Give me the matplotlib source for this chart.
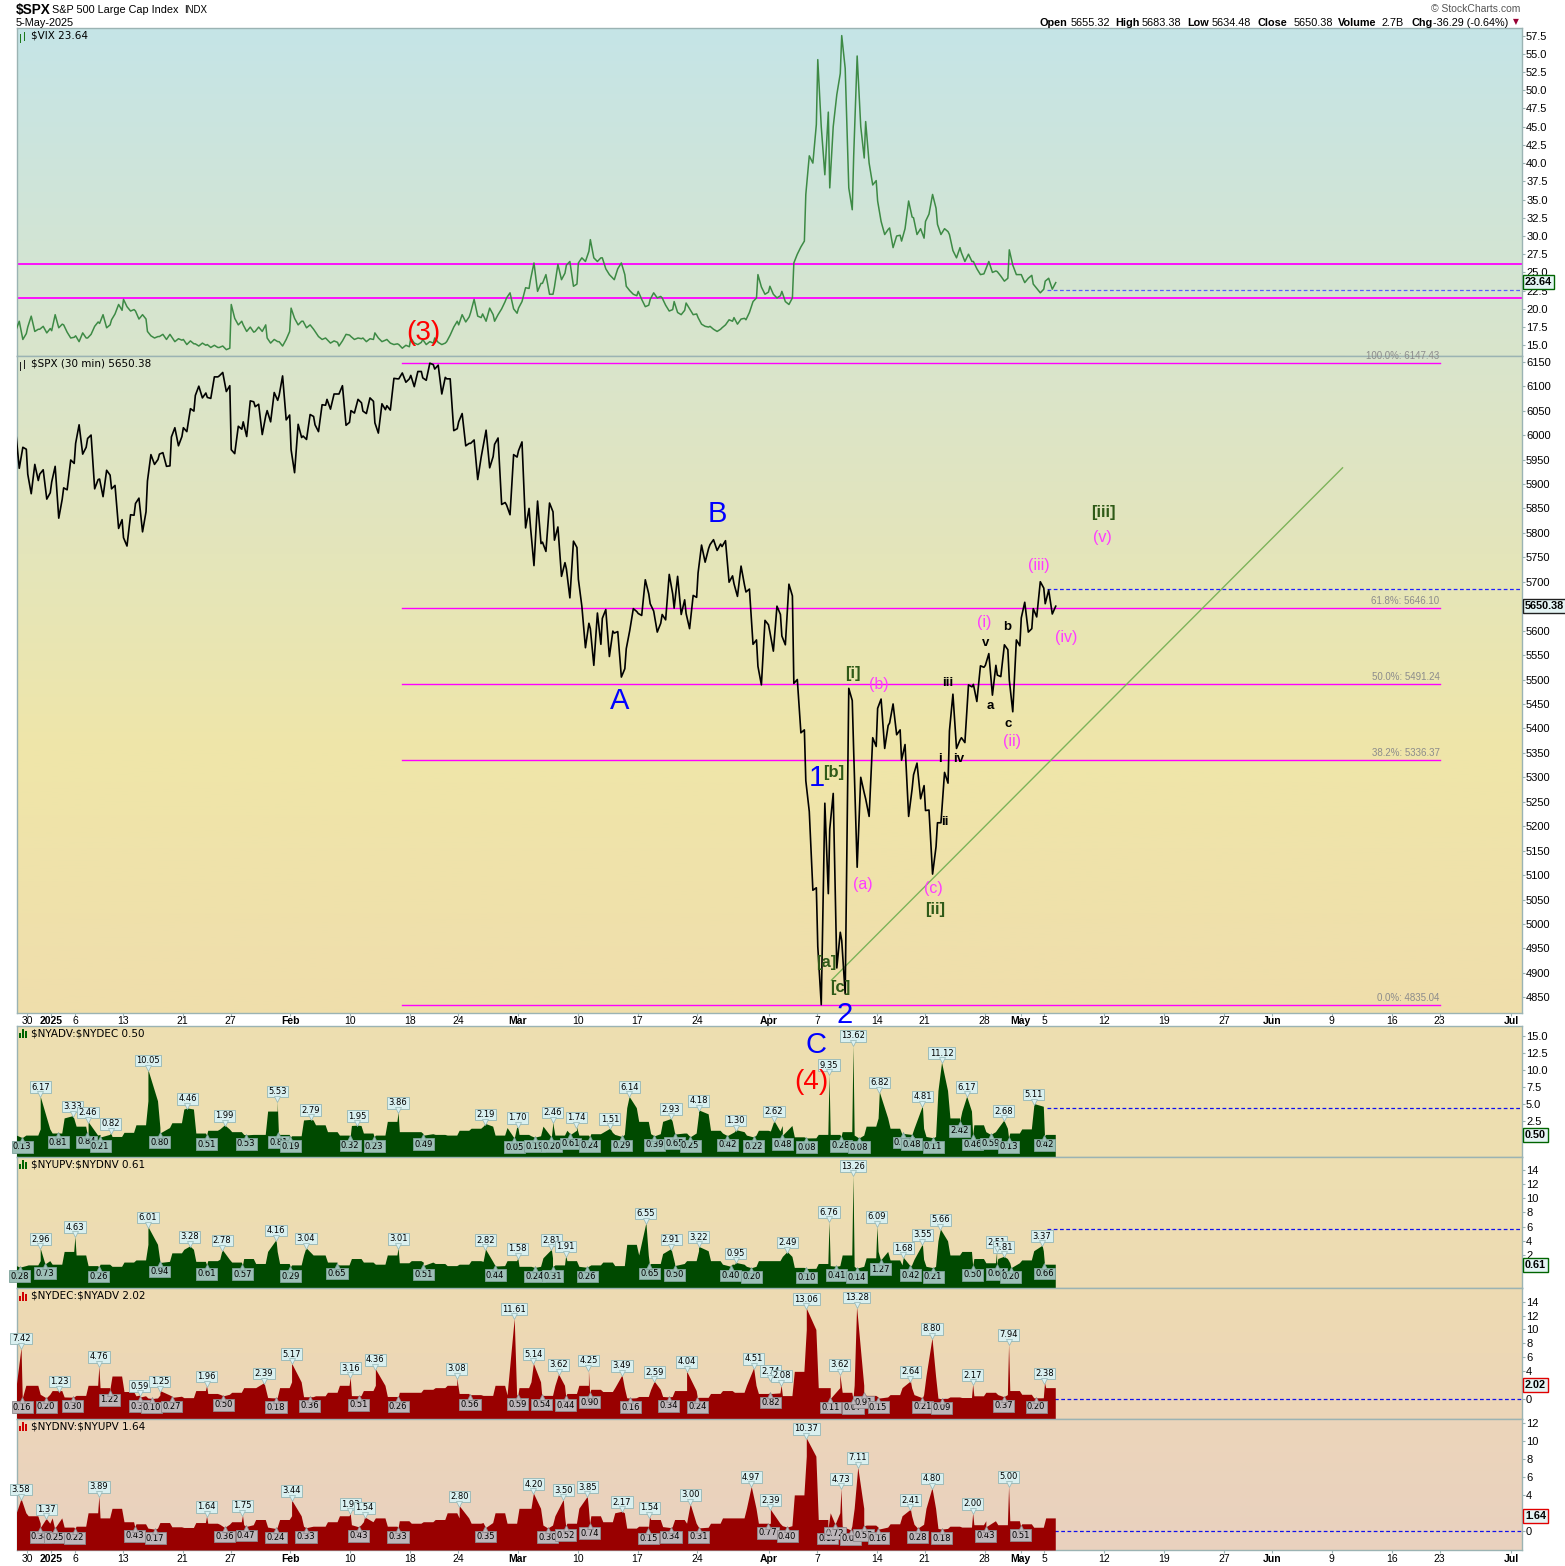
import numpy as np
import pandas as pd
import matplotlib
matplotlib.use("Agg")
import matplotlib.pyplot as plt
from matplotlib.transforms import offset_copy
from matplotlib.colors import LinearSegmentedColormap
from matplotlib.patches import Rectangle

plt.rcParams["font.family"] = ["Liberation Sans", "DejaVu Sans"]

# ---------------------------------------------------------------
# trading calendar: x axis counts sessions, Dec 30 2024 = 0
# ---------------------------------------------------------------
closed = ["2025-01-01", "2025-01-09", "2025-01-20", "2025-02-17",
          "2025-04-18", "2025-05-26", "2025-06-19"]
sessions = pd.bdate_range("2024-12-27", "2025-07-01", freq="C", holidays=closed)
session_ix = {d.strftime("%Y-%m-%d"): i - 1 for i, d in enumerate(sessions)}

tick_dates = ["2024-12-30", "2025-01-02", "2025-01-06", "2025-01-13", "2025-01-21",
              "2025-01-27", "2025-02-03", "2025-02-10", "2025-02-18", "2025-02-24",
              "2025-03-03", "2025-03-10", "2025-03-17", "2025-03-24", "2025-04-01",
              "2025-04-07", "2025-04-14", "2025-04-21", "2025-04-28", "2025-05-01",
              "2025-05-05", "2025-05-12", "2025-05-19", "2025-05-27", "2025-06-02",
              "2025-06-09", "2025-06-16", "2025-06-23", "2025-07-01"]
tick_text = ["30", "2025", "6", "13", "21", "27", "Feb", "10", "18", "24", "Mar", "10",
             "17", "24", "Apr", "7", "14", "21", "28", "May", "5", "12", "19", "27",
             "Jun", "9", "16", "23", "Jul"]
bold_ticks = {"2025", "Feb", "Mar", "Apr", "May", "Jun", "Jul"}

# ---------------------------------------------------------------
# $SPX 30-min path, four points per session (open, swing, swing, close)
# ---------------------------------------------------------------
spx_dec = [[6006, 5932, 5975, 5971], [5920, 5880, 5940, 5907], [5920, 5929, 5869, 5882]]
spx_jan = [
    [5904, 5936, 5830, 5869], [5892, 5888, 5949, 5942], [5983, 6021, 5961, 5975],
    [5993, 6000, 5890, 5909], [5910, 5874, 5928, 5918], [5890, 5897, 5809, 5827],
    [5790, 5773, 5837, 5836], [5860, 5871, 5802, 5843], [5906, 5960, 5940, 5950],
    [5961, 5964, 5936, 5937], [5996, 6015, 5978, 5997], [6015, 6007, 6054, 6049],
    [6081, 6100, 6076, 6086], [6077, 6075, 6119, 6119], [6121, 6128, 6089, 6101],
    [5970, 5962, 6018, 6012], [6027, 5997, 6070, 6068], [6058, 6063, 6001, 6039],
    [6050, 6027, 6087, 6071], [6081, 6121, 6031, 6041]]
spx_feb = [
    [5970, 5923, 6022, 5995], [5998, 5991, 6042, 6038], [6021, 6007, 6062, 6061],
    [6073, 6053, 6084, 6084], [6084, 6101, 6020, 6026], [6050, 6045, 6073, 6066],
    [6049, 6044, 6076, 6069], [6025, 6004, 6064, 6052], [6060, 6051, 6116, 6115],
    [6115, 6127, 6108, 6115], [6122, 6099, 6130, 6130], [6117, 6112, 6147, 6144],
    [6135, 6143, 6084, 6118], [6115, 6115, 6009, 6013], [6027, 6044, 5978, 5983],
    [5983, 5990, 5909, 5955], [5971, 6010, 5933, 5956], [5981, 5994, 5858, 5862],
    [5857, 5837, 5960, 5955]]
spx_mar = [
    [5968, 5986, 5810, 5850], [5812, 5733, 5865, 5778], [5781, 5762, 5861, 5843],
    [5785, 5812, 5711, 5739], [5726, 5667, 5783, 5770], [5705, 5650, 5565, 5615],
    [5604, 5529, 5636, 5572], [5625, 5643, 5547, 5599], [5595, 5598, 5505, 5522],
    [5563, 5600, 5645, 5639], [5635, 5631, 5704, 5675], [5655, 5640, 5597, 5615],
    [5633, 5622, 5715, 5675], [5646, 5711, 5633, 5663], [5635, 5604, 5672, 5668],
    [5718, 5775, 5740, 5768], [5776, 5786, 5764, 5777], [5772, 5784, 5699, 5712],
    [5696, 5670, 5732, 5693], [5679, 5685, 5572, 5581], [5527, 5489, 5621, 5612]]
spx_apr = [
    [5597, 5558, 5650, 5633], [5589, 5571, 5695, 5671], [5492, 5500, 5391, 5397],
    [5293, 5230, 5069, 5074], [4954, 4835, 5247, 5062], [5194, 5267, 4910, 4983],
    [4966, 4857, 5482, 5457], [5353, 5116, 5300, 5268], [5256, 5220, 5381, 5363],
    [5441, 5460, 5359, 5406], [5411, 5450, 5387, 5397], [5335, 5367, 5220, 5276],
    [5305, 5329, 5256, 5283], [5232, 5233, 5102, 5158], [5207, 5207, 5310, 5288],
    [5395, 5470, 5359, 5376], [5381, 5371, 5489, 5485], [5490, 5455, 5528, 5525],
    [5529, 5553, 5468, 5529], [5509, 5506, 5571, 5561], [5499, 5434, 5581, 5569]]
spx_may = [[5626, 5658, 5597, 5604], [5645, 5628, 5700, 5687], [5655, 5683, 5634, 5650]]

# $VIX, same layout
vix_dec = [[17.0, 18.3, 15.8, 16.6], [17.5, 19.0, 16.9, 17.2], [17.2, 17.6, 16.7, 17.3]]
vix_jan = [
    [17.0, 19.2, 17.4, 17.9], [17.8, 16.8, 16.0, 16.1], [16.3, 15.5, 16.7, 16.0],
    [16.0, 16.5, 17.6, 18.2], [18.0, 19.2, 17.4, 17.8], [18.5, 19.3, 20.6, 19.8],
    [21.3, 20.3, 19.7, 19.9], [19.7, 18.6, 19.2, 18.6], [16.9, 16.3, 16.0, 16.2],
    [16.2, 16.5, 15.8, 16.5], [16.2, 15.5, 15.9, 15.7], [15.8, 15.1, 15.6, 15.2],
    [15.2, 14.9, 15.3, 15.0], [15.1, 14.7, 15.0, 14.7], [14.7, 14.9, 14.4, 14.6],
    [20.6, 18.7, 17.8, 18.3], [17.8, 16.9, 17.5, 16.8], [16.9, 17.5, 16.9, 17.8],
    [16.0, 15.3, 15.8, 15.5], [15.5, 14.9, 15.8, 16.9]]
vix_feb = [
    [20.1, 18.7, 17.8, 18.3], [18.3, 17.4, 17.8, 17.2], [16.9, 16.2, 15.8, 16.0],
    [15.8, 15.3, 15.6, 15.4], [14.9, 15.6, 16.5, 16.4], [16.2, 15.8, 16.0, 15.9],
    [16.0, 15.5, 15.9, 15.8], [16.7, 16.0, 15.5, 15.7], [15.8, 15.3, 15.1, 15.2],
    [15.1, 14.6, 15.0, 14.8], [16.0, 15.3, 15.1, 15.4], [15.8, 15.1, 15.5, 15.3],
    [16.0, 15.4, 15.1, 15.3], [15.5, 16.4, 17.5, 18.3], [17.8, 19.2, 18.2, 18.9],
    [19.5, 21.3, 19.0, 18.8], [19.3, 18.3, 20.1, 19.2], [18.3, 19.2, 20.0, 21.0],
    [21.5, 22.2, 20.0, 19.4]]
vix_mar = [
    [20.1, 21.0, 22.9, 22.8], [24.0, 26.3, 22.4, 23.5], [23.5, 24.7, 22.0, 22.0],
    [23.0, 26.1, 24.0, 24.9], [26.0, 26.5, 23.1, 23.4], [26.3, 27.0, 26.5, 27.9],
    [29.5, 27.0, 26.5, 27.0], [27.0, 25.5, 24.7, 24.2], [24.0, 25.5, 26.3, 24.7],
    [23.1, 22.5, 22.0, 21.8], [22.4, 21.3, 20.3, 20.5], [21.3, 22.2, 21.5, 21.7],
    [21.5, 20.5, 19.7, 19.9], [21.0, 19.5, 19.2, 19.8], [20.8, 20.0, 19.2, 19.3],
    [18.8, 17.9, 17.6, 17.5], [17.6, 17.2, 16.9, 17.2], [17.4, 17.8, 18.5, 18.3],
    [18.8, 17.9, 18.6, 18.7], [18.5, 19.5, 21.0, 21.5], [24.7, 23.0, 22.0, 22.3]]
vix_apr = [
    [23.1, 22.0, 21.5, 21.8], [22.4, 21.0, 20.6, 21.5], [26.3, 27.5, 28.5, 29.3],
    [35.7, 41.0, 40.0, 45.3], [54.2, 45.0, 38.4, 47.0], [36.6, 45.0, 49.4, 52.3],
    [57.5, 53.0, 36.6, 33.6], [41.0, 54.7, 45.0, 40.7], [45.7, 40.0, 37.0, 37.6],
    [34.8, 32.0, 30.2, 30.9], [31.1, 28.4, 30.0, 30.1], [29.3, 31.0, 34.8, 32.6],
    [32.5, 30.2, 31.0, 29.7], [32.0, 33.0, 35.7, 33.8], [31.6, 30.2, 31.0, 30.6],
    [30.2, 28.0, 27.0, 28.4], [27.7, 26.5, 27.5, 26.5], [26.5, 25.5, 24.7, 24.8],
    [25.3, 26.5, 25.0, 25.2], [25.1, 24.5, 23.8, 24.2], [28.1, 26.0, 24.7, 24.7]]
vix_may = [[24.7, 23.6, 24.2, 24.6], [23.4, 22.8, 22.2, 22.7], [23.8, 24.2, 22.7, 23.6]]

# ---------------------------------------------------------------
# breadth ratios: settled level per session + labelled extremes
# ---------------------------------------------------------------
adv_level = [0.5, 0.5, 1.4,
             0.8, 3.0, 1.8, 0.5, 0.6, 0.3, 0.9, 2.0, 5.5, 1.6, 2.3, 4.3, 0.8, 1.2, 1.4, 1.0, 0.6, 0.6, 4.0, 0.6,
             0.4, 2.7, 2.0, 1.0, 0.5, 1.9, 0.8, 0.5, 2.5, 1.0, 1.0, 0.7, 0.6, 0.5, 1.2, 1.5, 1.8, 0.5, 1.6,
             0.6, 0.4, 1.8, 0.5, 1.2, 0.5, 0.7, 0.9, 0.6, 4.5, 2.5, 0.7, 2.5, 0.8, 0.8, 3.6, 1.2, 0.8, 1.0, 0.5, 1.2,
             1.1, 1.9, 0.25, 0.1, 0.6, 0.6, 1.0, 0.5, 1.8, 3.0, 1.5, 0.6, 1.5, 0.3, 7.0, 3.0, 4.0, 2.0, 1.0, 1.5, 0.8,
             1.4, 4.7, 0.6]
upv_level = [0.5, 0.6, 1.2,
             0.7, 2.5, 2.0, 0.5, 0.7, 0.4, 1.0, 1.3, 3.5, 1.1, 2.3, 2.8, 1.1, 1.2, 1.4, 1.0, 1.5, 0.8, 2.5, 0.8,
             0.6, 2.0, 2.0, 1.0, 0.6, 1.5, 1.0, 0.7, 2.0, 0.9, 1.2, 1.0, 0.8, 0.5, 0.7, 1.2, 1.1, 0.5, 1.2,
             0.4, 0.4, 1.6, 0.6, 1.2, 0.4, 0.6, 1.0, 0.5, 3.5, 2.0, 0.8, 2.2, 0.8, 1.2, 2.6, 1.2, 0.7, 0.7, 0.4, 1.2,
             1.2, 1.8, 0.25, 0.12, 0.8, 0.5, 2.0, 0.4, 1.6, 2.5, 1.3, 0.6, 1.4, 0.4, 4.0, 2.0, 2.5, 1.5, 0.9, 1.5, 0.9,
             1.3, 2.6, 0.7]

adv_hi_pos = [1.1, 3.8, 5.1, 7.0, 10.1, 13.4, 16.5, 20.9, 23.7, 27.6, 31.0, 38.3, 41.0, 43.9, 45.9,
              48.7, 50.3, 53.8, 56.1, 59.2, 62.4, 67.0, 69.0, 71.2, 74.8, 76.4, 78.5, 81.6, 84.1]
adv_hi_val = [6.17, 3.33, 2.46, 0.82, 10.05, 4.46, 1.99, 5.53, 2.79, 1.95, 3.86, 2.19, 1.70, 2.46, 1.74,
              1.51, 6.14, 2.93, 4.18, 1.30, 2.62, 9.35, 13.62, 6.82, 4.81, 11.12, 6.17, 2.68, 5.11]
adv_lo_pos = [-0.4, 2.6, 5.0, 6.1, 11.1, 15.0, 18.3, 21.0, 22.0, 27.0, 29.0, 33.1, 40.7, 42.4, 43.8, 45.4,
              47.0, 49.7, 52.4, 54.1, 55.4, 58.5, 60.7, 63.1, 65.1, 68.0, 69.5, 73.2, 73.9, 75.7, 77.9,
              79.0, 80.5, 82.0, 85.0]
adv_lo_val = [0.13, 0.81, 0.84, 0.21, 0.80, 0.51, 0.53, 0.81, 0.19, 0.32, 0.23, 0.49, 0.05, 0.19, 0.20, 0.61,
              0.24, 0.29, 0.39, 0.65, 0.25, 0.42, 0.22, 0.48, 0.08, 0.28, 0.08, 0.74, 0.48, 0.11, 2.42,
              0.46, 0.59, 0.13, 0.42]

upv_hi_pos = [1.1, 4.0, 10.1, 13.6, 16.3, 20.8, 23.3, 31.0, 38.3, 41.0, 43.8, 45.0, 51.7, 53.8, 56.1,
              59.2, 63.5, 67.0, 69.0, 71.0, 73.2, 74.8, 76.3, 81.0, 81.6, 84.8]
upv_hi_val = [2.96, 4.63, 6.01, 3.28, 2.78, 4.16, 3.04, 3.01, 2.82, 1.58, 2.81, 1.91, 6.55, 2.91, 3.22,
              0.95, 2.49, 6.76, 13.26, 6.09, 1.68, 3.55, 5.66, 2.51, 1.81, 3.37]
upv_lo_pos = [-0.6, 1.5, 6.0, 11.1, 15.0, 18.0, 22.0, 25.9, 33.1, 39.1, 42.4, 43.9, 46.8, 52.0, 54.1,
              58.8, 60.5, 65.1, 67.6, 69.3, 71.3, 73.8, 75.7, 79.0, 81.0, 82.2, 85.0]
upv_lo_val = [0.28, 0.73, 0.26, 0.94, 0.61, 0.57, 0.29, 0.65, 0.51, 0.44, 0.24, 0.31, 0.26, 0.65, 0.50,
              0.40, 0.20, 0.10, 0.41, 0.14, 1.27, 0.42, 0.21, 0.50, 0.64, 0.20, 0.66]

dec_hi_pos = [-0.5, 2.7, 6.0, 9.4, 11.1, 15.0, 19.8, 22.1, 27.0, 29.1, 35.9, 40.7, 42.3, 44.4, 46.9,
              49.7, 52.4, 55.1, 60.7, 62.1, 63.0, 65.1, 67.9, 69.3, 73.8, 75.6, 79.0, 82.0, 85.0]
dec_hi_val = [7.42, 1.23, 4.76, 0.59, 1.25, 1.96, 2.39, 5.17, 3.16, 4.36, 3.08, 11.61, 5.14, 3.62, 4.25,
              3.49, 2.59, 4.04, 4.51, 2.74, 2.08, 13.06, 3.62, 13.28, 2.64, 8.80, 2.17, 7.94, 2.38]
dec_lo_pos = [-0.4, 1.6, 3.8, 6.9, 9.4, 10.4, 12.1, 16.4, 20.8, 23.6, 27.7, 31.0, 37.0, 41.0, 43.0, 45.0,
              47.0, 50.4, 53.6, 56.0, 62.1, 67.1, 69.0, 69.9, 71.1, 74.8, 76.4, 81.6, 84.3]
dec_lo_val = [0.16, 0.20, 0.30, 1.22, 0.31, 0.10, 0.27, 0.50, 0.18, 0.36, 0.51, 0.26, 0.56, 0.59, 0.54, 0.44,
              0.90, 0.16, 0.34, 0.24, 0.82, 0.11, 0.07, 0.91, 0.15, 0.21, 0.09, 0.37, 0.20]

dnv_hi_pos = [-0.5, 1.6, 6.0, 15.0, 18.0, 22.1, 27.0, 28.2, 36.1, 42.3, 44.8, 46.8, 49.7, 52.0, 55.4,
              60.5, 62.1, 65.1, 68.0, 69.4, 73.8, 75.6, 79.0, 82.0]
dnv_hi_val = [3.58, 1.37, 3.89, 1.64, 1.75, 3.44, 1.93, 1.54, 2.80, 4.20, 3.50, 3.85, 2.17, 1.54, 3.00,
              4.97, 2.39, 10.37, 4.73, 7.11, 2.41, 4.80, 2.00, 5.00]
dnv_lo_pos = [1.1, 2.3, 4.0, 9.0, 10.7, 16.5, 18.3, 20.8, 23.3, 27.7, 31.0, 38.3, 43.5, 45.0, 47.0, 51.9,
              53.8, 56.1, 61.9, 63.5, 66.9, 67.5, 68.8, 69.9, 71.1, 74.4, 76.4, 80.1, 83.0]
dnv_lo_val = [0.34, 0.25, 0.22, 0.43, 0.17, 0.36, 0.47, 0.24, 0.33, 0.43, 0.33, 0.35, 0.30, 0.52, 0.74, 0.15,
              0.34, 0.31, 0.77, 0.40, 0.15, 0.72, 0.09, 0.53, 0.16, 0.28, 0.18, 0.43, 0.51]

# overlays
vix_lines = [26.1, 21.5]
vix_dash = 22.55
spx_dash = 5686
adv_dash = 4.4
upv_dash = 5.7
fib_pct = ["100.0%", "61.8%", "50.0%", "38.2%", "0.0%"]
fib_val = [6147.43, 5646.10, 5491.24, 5336.37, 4835.04]
fib_span = (31.3, 118.0)
trend_idx = [67.2, 109.9]
trend_val = [4885, 5933]

wave_labels = [
    ("A", 49.5, 5456, "blue"), ("B", 57.7, 5838, "blue"), ("1", 66.0, 5298, "blue"),
    ("2", 68.3, 4814, "blue"), ("C", 65.9, 4753, "blue"), ("(4)", 65.5, 4677, "red"),
    ("[i]", 69.0, 5513, "green"), ("[b]", 67.4, 5309, "green"), ("[a]", 66.8, 4922, "green"),
    ("[c]", 67.9, 4871, "green"), ("[ii]", 75.9, 5029, "green"), ("[iii]", 89.9, 5842, "green"),
    ("(a)", 69.8, 5080, "pink"), ("(b)", 71.2, 5489, "pink"), ("(c)", 75.7, 5072, "pink"),
    ("(i)", 80.0, 5616, "pink"), ("(ii)", 82.3, 5374, "pink"), ("(iii)", 84.5, 5734, "pink"),
    ("(iv)", 86.8, 5585, "pink"), ("(v)", 89.8, 5791, "pink"),
    ("i", 76.3, 5337, "black"), ("ii", 76.7, 5208, "black"), ("iii", 76.9, 5493, "black"),
    ("iv", 77.8, 5337, "black"), ("v", 80.1, 5575, "black"), ("a", 80.5, 5446, "black"),
    ("b", 81.9, 5608, "black"), ("c", 82.0, 5409, "black")]
vix_wave = ("(3)", 33.1, 16.7, "red")

WAVE_STYLE = {
    "blue": dict(color="#0000ff", fontsize=21),
    "red": dict(color="#ff0000", fontsize=20),
    "green": dict(color="#2f5a18", fontsize=12, fontweight="bold"),
    "pink": dict(color="#ff3cff", fontsize=11.5),
    "black": dict(color="black", fontsize=9.5, fontweight="bold"),
}

# ---------------------------------------------------------------
# layout (pixel based, 1565 x 1566)
# ---------------------------------------------------------------
W, H = 1565, 1566
L, R = 16.5, 1521.5
X0, X1 = -0.88, 124.85
EDGE = "#9bb3b3"
GREEN_AREA, RED_AREA = "#004a00", "#990000"
HI_FC, HI_EC = "#d9f0f0", "#94b6b6"

fig = plt.figure(figsize=(W / 100, H / 100), dpi=100)
fig.patch.set_facecolor("white")


def panel(top, bottom, colors, z=1):
    ax = fig.add_axes([L / W, 1 - bottom / H, (R - L) / W, (bottom - top) / H], zorder=z)
    ax.patch.set_visible(False)
    cmap = LinearSegmentedColormap.from_list("bg", colors)
    ax.imshow(np.linspace(0, 1, 256)[:, None], cmap=cmap, extent=(0, 1, 0, 1),
              transform=ax.transAxes, aspect="auto", origin="upper", zorder=0)
    for s in ax.spines.values():
        s.set_color(EDGE)
        s.set_linewidth(1.0)
    ax.yaxis.tick_right()
    ax.tick_params(axis="y", which="both", direction="out", length=2.5, width=0.8,
                   colors=EDGE, labelcolor="black", labelsize=8, pad=0.8)
    ax.tick_params(axis="x", length=0, labelbottom=False)
    return ax


def date_axis(ax):
    ax.set_xticks([session_ix[d] for d in tick_dates])
    ax.set_xticklabels(tick_text)
    ax.tick_params(axis="x", direction="out", length=2, width=0.8, colors=EDGE,
                   labelcolor="black", labelsize=7.5, pad=0.6, labelbottom=True)
    for lab in ax.get_xticklabels():
        if lab.get_text() in bold_ticks:
            lab.set_fontweight("bold")


def legend(ax, text, y_px, color, bars=True):
    fig.text(31.5 / W, 1 - y_px / H, text.replace("$", r"\$"), fontsize=7.5,
             family="DejaVu Sans", va="center", ha="left", zorder=20)
    if bars:
        for dx, h in [(0, 5), (3, 9), (6, 7)]:
            fig.add_artist(Rectangle(((19 + dx) / W, 1 - (y_px + 4.5) / H), 2 / W, h / H,
                                     transform=fig.transFigure, color=color, lw=0, zorder=20))
    else:
        for dx, y0, h in [(0, -4, 9), (4, -2, 9)]:
            fig.add_artist(Rectangle(((20 + dx) / W, 1 - (y_px - y0 + 4) / H), 1.2 / W, h / H,
                                     transform=fig.transFigure, color=color, lw=0, zorder=20))


def value_tag(ax, value, text, ec):
    ax.text(1.0 + 3.5 / (R - L), value, text, transform=ax.get_yaxis_transform(),
            ha="left", va="center", fontsize=7.8, fontweight="bold", color="black",
            bbox=dict(boxstyle="square,pad=0.18", fc="#e4f4f4", ec=ec, lw=1.0),
            clip_on=False, zorder=30)


def price_tags(ax, pos, val, hi, fc, ec):
    dy = 3.3 if hi else -3.3
    mark = offset_copy(ax.transData, fig=fig, x=0, y=dy * 0.42, units="points")
    for p, v in zip(pos, val):
        ax.annotate(f"{v:.2f}", (p, v), xytext=(0, dy), textcoords="offset points",
                    ha="center", va="bottom" if hi else "top", fontsize=6.0,
                    family="DejaVu Sans", color="black",
                    bbox=dict(boxstyle="square,pad=0.16", fc=fc, ec=ec, lw=0.6),
                    annotation_clip=False, zorder=7)
        ax.plot([p], [v], marker="v" if hi else "^", ms=4.6, color=fc, mec=ec, mew=0.5,
                transform=mark, zorder=8, clip_on=False)


def breadth_series(level, hi_pos, hi_val, lo_pos, lo_val):
    d = np.arange(-1, len(level) - 1)
    xs = np.concatenate([d + 0.1, d + 0.9, hi_pos, lo_pos])
    ys = np.concatenate([level, level, hi_val, lo_val])
    o = np.argsort(xs, kind="stable")
    return xs[o], ys[o]


in_day = np.array([0.06, 0.35, 0.65, 0.94])


def session_path(rows):
    rows = np.asarray(rows, dtype=float)
    d = np.arange(-1, len(rows) - 1)
    return (d[:, None] + in_day).ravel(), rows.ravel()


# ---------------------------------------------------------------
# VIX panel
# ---------------------------------------------------------------
ax_vix = panel(28.3, 356, ["#c5e5e7", "#d9e4cb"])
ax_vix.set_xlim(X0, X1)
ax_vix.set_ylim(13.53, 58.5)
ax_vix.set_yticks(np.arange(15, 57.6, 2.5))
ax_vix.set_yticklabels([f"{v:.1f}" for v in np.arange(15, 57.6, 2.5)])
vx, vy = session_path(vix_dec + vix_jan + vix_feb + vix_mar + vix_apr + vix_may)
ax_vix.plot(vx, vy, color="#3d8a45", lw=1.1, zorder=3)
for lv in vix_lines:
    ax_vix.axhline(lv, color="#ff00ff", lw=1.3, zorder=2)
ax_vix.plot([85.2, X1], [vix_dash, vix_dash], color="#5a5aff", lw=0.9, ls=(0, (3, 2)), zorder=2)
txt, xi, yv, kind = vix_wave
ax_vix.text(xi, yv, txt, ha="center", va="center", zorder=9, **WAVE_STYLE[kind])
value_tag(ax_vix, 23.64, "23.64", "#006400")
legend(ax_vix, "$VIX 23.64", 35, "#1c7a1c", bars=False)

# ---------------------------------------------------------------
# SPX panel
# ---------------------------------------------------------------
ax_spx = panel(356, 1012.7, [(0, "#d9e4cc"), (0.6, "#efe6a9"), (1, "#efdeac")], z=5)
ax_spx.set_xlim(X0, X1)
ax_spx.set_ylim(4818.5, 6161.7)
spx_ticks = [t for t in range(4850, 6151, 50) if t != 5650]   # 5650 sits under the close tag
ax_spx.set_yticks(spx_ticks)
sx, sy = session_path(spx_dec + spx_jan + spx_feb + spx_mar + spx_apr + spx_may)
ax_spx.plot(sx, sy, color="black", lw=1.2, zorder=4)
for pct, fv in zip(fib_pct, fib_val):
    ax_spx.plot(fib_span, [fv, fv], color="#ff00ff", lw=1.0, zorder=2)
    ax_spx.annotate(f"{pct}: {fv:.2f}", (fib_span[1], fv), xytext=(0, 1.2),
                    textcoords="offset points", ha="right", va="bottom",
                    fontsize=7, color="#8c8c8c", zorder=3)
ax_spx.plot(trend_idx, trend_val, color="#7db35a", lw=1.0, zorder=3)
ax_spx.plot([85.2, X1], [spx_dash, spx_dash], color="#2020ff", lw=0.9, ls=(0, (3, 2)), zorder=3)
for txt, xi, yv, kind in wave_labels:
    ax_spx.text(xi, yv, txt, ha="center", va="center", clip_on=False, zorder=9, **WAVE_STYLE[kind])
value_tag(ax_spx, 5650.38, "5650.38", "#202020")
legend(ax_spx, "$SPX (30 min) 5650.38", 363, "#202020", bars=False)
date_axis(ax_spx)

# ---------------------------------------------------------------
# breadth panels
# ---------------------------------------------------------------
adv_inv = [1.0 / v for v in adv_level]
upv_inv = [1.0 / v for v in upv_level]
breadth = [
    dict(top=1026, bottom=1156.7, ylim=(-2.65, 16.4), ticks=np.arange(2.5, 15.1, 2.5), fmt="{:.1f}",
         level=adv_level, hi=(adv_hi_pos, adv_hi_val), lo=(adv_lo_pos, adv_lo_val), area=GREEN_AREA,
         lo_fc="#9dbfb7", lo_ec="#7ea39a", dash=(85.2, adv_dash), tag=(0.50, "0.50", "#006400"),
         name="$NYADV:$NYDEC 0.50", ly=1033.3, bg=["#eedfb0", "#eddeb1"]),
    dict(top=1156.7, bottom=1288.3, ylim=(-2.7, 15.86), ticks=np.arange(2, 14.1, 2), fmt="{:.0f}",
         level=upv_level, hi=(upv_hi_pos, upv_hi_val), lo=(upv_lo_pos, upv_lo_val), area=GREEN_AREA,
         lo_fc="#9dbfb7", lo_ec="#7ea39a", dash=(85.2, upv_dash), tag=(0.61, "0.61", "#006400"),
         name="$NYUPV:$NYDNV 0.61", ly=1164.3, bg=["#eedfb1", "#eddbb3"]),
    dict(top=1288.3, bottom=1419.3, ylim=(-2.87, 15.9), ticks=[0, 4, 6, 8, 10, 12, 14], fmt="{:.0f}",
         level=adv_inv, hi=(dec_hi_pos, dec_hi_val), lo=(dec_lo_pos, dec_lo_val), area=RED_AREA,
         lo_fc="#bdb6ba", lo_ec="#8f8a8d", dash=(X0, 0.0), tag=(2.02, "2.02", "#e00000"),
         name="$NYDEC:$NYADV 2.02", ly=1296, bg=["#eedbb2", "#ecd5b8"]),
    dict(top=1419.3, bottom=1550, ylim=(-2.16, 12.45), ticks=[0, 4, 6, 8, 10, 12], fmt="{:.0f}",
         level=upv_inv, hi=(dnv_hi_pos, dnv_hi_val), lo=(dnv_lo_pos, dnv_lo_val), area=RED_AREA,
         lo_fc="#bdb6ba", lo_ec="#8f8a8d", dash=(X0, 0.0), tag=(1.64, "1.64", "#e00000"),
         name="$NYDNV:$NYUPV 1.64", ly=1426.7, bg=["#ecd5ba", "#e9d1bf"]),
]

axes_b = []
for cfg in breadth:
    ax = panel(cfg["top"], cfg["bottom"], cfg["bg"])
    ax.set_xlim(X0, X1)
    ax.set_ylim(*cfg["ylim"])
    ax.set_yticks(cfg["ticks"])
    ax.set_yticklabels([cfg["fmt"].format(t) for t in cfg["ticks"]])
    bx, by = breadth_series(cfg["level"], *cfg["hi"], *cfg["lo"])
    ax.fill_between(bx, by, cfg["ylim"][0], color=cfg["area"], lw=0, zorder=3)
    ax.plot([cfg["dash"][0], X1], [cfg["dash"][1]] * 2, color="#1010ee", lw=0.9,
            ls=(0, (3, 2)), zorder=2)
    price_tags(ax, *cfg["hi"], True, HI_FC, HI_EC)
    price_tags(ax, *cfg["lo"], False, cfg["lo_fc"], cfg["lo_ec"])
    value_tag(ax, *cfg["tag"])
    legend(ax, cfg["name"], cfg["ly"], "#006400" if cfg["area"] == GREEN_AREA else "#d00000")
    axes_b.append(ax)

date_axis(axes_b[-1])

# ---------------------------------------------------------------
# header
# ---------------------------------------------------------------
fig.text(16 / W, 1 - 10 / H, r"\$SPX", fontsize=9.8, fontweight="bold", va="center")
fig.text(52 / W, 1 - 10 / H, "S&P 500 Large Cap Index", fontsize=7.8, va="center")
fig.text(184 / W, 1 - 10 / H, "INDX", fontsize=7, va="center")
fig.text(16 / W, 1 - 22.5 / H, "5-May-2025", fontsize=7.8, va="center")
fig.text(1520 / W, 1 - 9 / H, "\u00a9 StockCharts.com", fontsize=7.5, color="#555555",
         ha="right", va="center")
header_parts = [("Open", 1040, True), ("5655.32", 1071, False), ("High", 1115, True),
                ("5683.38", 1142, False), ("Low", 1187, True), ("5634.48", 1212, False),
                ("Close", 1258, True), ("5650.38", 1294, False), ("Volume", 1338, True),
                ("2.7B", 1381, False), ("Chg", 1412, True), ("-36.29 (-0.64%)", 1433, False)]
for s, xp, b in header_parts:
    fig.text(xp / W, 1 - 22.5 / H, s, fontsize=7.8, fontweight="bold" if b else "normal",
             va="center", ha="left")
fig.text(1513 / W, 1 - 22 / H, "\u25bc", fontsize=5.5, color="#990033", va="center",
         ha="left", family="DejaVu Sans")

fig.savefig("out.png", dpi=100, facecolor="white")
